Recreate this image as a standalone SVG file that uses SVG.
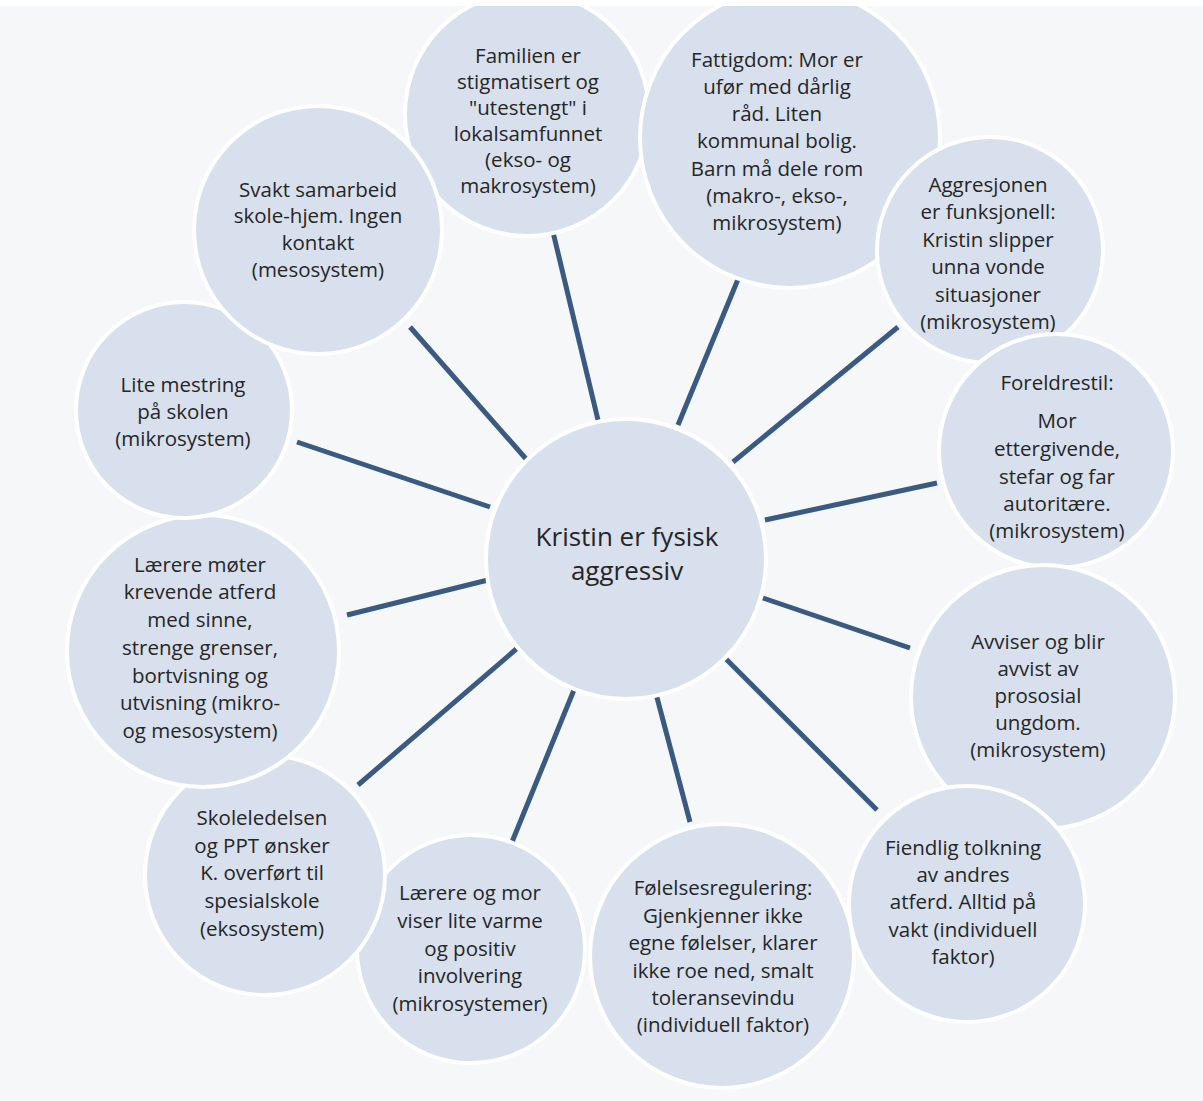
<svg xmlns="http://www.w3.org/2000/svg" width="1203" height="1101" viewBox="0 0 1203 1101">
<style>
.bg{fill:#f6f7f9}
.node circle{fill:#d7e0ec;stroke:#ffffff;stroke-width:4}
.node text{font-family:"Open Sans","Liberation Sans",sans-serif;font-size:20.5px;fill:#262626;text-anchor:middle}
#center text{font-size:26px}
#connectors line{stroke:#3a5a82;stroke-width:5;stroke-linecap:butt}
</style>
<rect class="bg" x="0" y="0" width="1203" height="1101"/>
<g id="connectors">
<line x1="598" y1="420" x2="553" y2="232"/>
<line x1="678" y1="425" x2="741" y2="272"/>
<line x1="733" y1="462" x2="898" y2="327"/>
<line x1="765" y1="520" x2="937" y2="483"/>
<line x1="763" y1="598" x2="910" y2="648"/>
<line x1="722" y1="655" x2="877" y2="810"/>
<line x1="655" y1="690" x2="690" y2="822"/>
<line x1="578" y1="680" x2="512" y2="842"/>
<line x1="521" y1="645" x2="358" y2="785"/>
<line x1="488" y1="580" x2="347" y2="615"/>
<line x1="490" y1="507" x2="297" y2="442"/>
<line x1="527" y1="460" x2="410" y2="327"/>
</g>
<g id="n-familien" class="node">
<circle cx="527" cy="114" r="122"/>
<text x="528" y="63">Familien er</text>
<text x="528" y="89">stigmatisert og</text>
<text x="528" y="115">"utestengt" i</text>
<text x="528" y="141">lokalsamfunnet</text>
<text x="528" y="167">(ekso- og</text>
<text x="528" y="193">makrosystem)</text>
</g>
<g id="n-fattigdom" class="node">
<circle cx="790" cy="138" r="150"/>
<text x="777" y="67">Fattigdom: Mor er</text>
<text x="777" y="94">ufør med dårlig</text>
<text x="777" y="121">råd. Liten</text>
<text x="777" y="148">kommunal bolig.</text>
<text x="777" y="176">Barn må dele rom</text>
<text x="777" y="203">(makro-, ekso-,</text>
<text x="777" y="230">mikrosystem)</text>
</g>
<g id="n-aggresjonen" class="node">
<circle cx="990" cy="250" r="113"/>
<text x="988" y="192">Aggresjonen</text>
<text x="988" y="219">er funksjonell:</text>
<text x="988" y="247">Kristin slipper</text>
<text x="988" y="274">unna vonde</text>
<text x="988" y="302">situasjoner</text>
<text x="988" y="329">(mikrosystem)</text>
</g>
<g id="n-foreldrestil" class="node">
<circle cx="1056" cy="451" r="117"/>
<text x="1057" y="390">Foreldrestil:</text>
<text x="1057" y="428">Mor</text>
<text x="1057" y="456">ettergivende,</text>
<text x="1057" y="484">stefar og far</text>
<text x="1057" y="511">autoritære.</text>
<text x="1057" y="538">(mikrosystem)</text>
</g>
<g id="n-avviser" class="node">
<circle cx="1043" cy="697" r="132"/>
<text x="1038" y="649">Avviser og blir</text>
<text x="1038" y="676">avvist av</text>
<text x="1038" y="703">prososial</text>
<text x="1038" y="730">ungdom.</text>
<text x="1038" y="757">(mikrosystem)</text>
</g>
<g id="n-fiendlig" class="node">
<circle cx="967" cy="904" r="118"/>
<text x="963" y="855">Fiendlig tolkning</text>
<text x="963" y="882">av andres</text>
<text x="963" y="909">atferd. Alltid på</text>
<text x="963" y="937">vakt (individuell</text>
<text x="963" y="964">faktor)</text>
</g>
<g id="n-folelses" class="node">
<circle cx="722" cy="956" r="132"/>
<text x="723" y="895">Følelsesregulering:</text>
<text x="723" y="923">Gjenkjenner ikke</text>
<text x="723" y="950">egne følelser, klarer</text>
<text x="723" y="978">ikke roe ned, smalt</text>
<text x="723" y="1005">toleransevindu</text>
<text x="723" y="1032">(individuell faktor)</text>
</g>
<g id="n-larere-mor" class="node">
<circle cx="471" cy="949" r="114"/>
<text x="470" y="900">Lærere og mor</text>
<text x="470" y="928">viser lite varme</text>
<text x="470" y="956">og positiv</text>
<text x="470" y="983">involvering</text>
<text x="470" y="1011">(mikrosystemer)</text>
</g>
<g id="n-skoleledelsen" class="node">
<circle cx="265" cy="875" r="120"/>
<text x="262" y="825">Skoleledelsen</text>
<text x="262" y="853">og PPT ønsker</text>
<text x="262" y="880">K. overført til</text>
<text x="262" y="908">spesialskole</text>
<text x="262" y="936">(eksosystem)</text>
</g>
<g id="n-larere-moter" class="node">
<circle cx="203" cy="651" r="136"/>
<text x="200" y="572">Lærere møter</text>
<text x="200" y="599">krevende atferd</text>
<text x="200" y="627">med sinne,</text>
<text x="200" y="655">strenge grenser,</text>
<text x="200" y="683">bortvisning og</text>
<text x="200" y="710">utvisning (mikro-</text>
<text x="200" y="738">og mesosystem)</text>
</g>
<g id="n-lite-mestring" class="node">
<circle cx="184" cy="410" r="108"/>
<text x="183" y="392">Lite mestring</text>
<text x="183" y="419">på skolen</text>
<text x="183" y="446">(mikrosystem)</text>
</g>
<g id="n-svakt" class="node">
<circle cx="318" cy="230" r="124"/>
<text x="318" y="197">Svakt samarbeid</text>
<text x="318" y="223">skole-hjem. Ingen</text>
<text x="318" y="250">kontakt</text>
<text x="318" y="277">(mesosystem)</text>
</g>
<g id="center" class="node">
<circle cx="626" cy="559" r="140"/>
<text x="627" y="546">Kristin er fysisk</text>
<text x="627" y="580">aggressiv</text>
</g>
<rect x="0" y="0" width="1203" height="6" fill="#ffffff"/>
</svg>
